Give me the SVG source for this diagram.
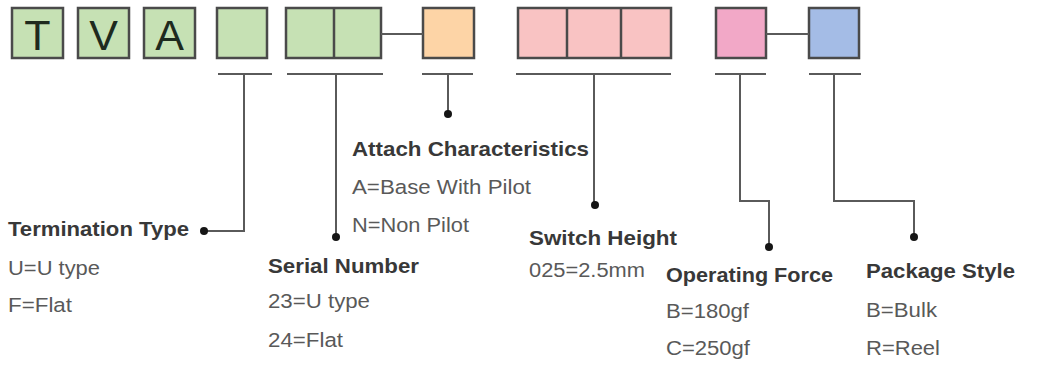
<svg xmlns="http://www.w3.org/2000/svg" width="1038" height="369" viewBox="0 0 1038 369">
<style>
.box{stroke:#4a4a4a;stroke-width:2.5}
.g{fill:#c6e1b4}.o{fill:#fdd4a6}.p{fill:#f9c3c3}.m{fill:#f2a8c7}.b{fill:#a4bce6}
.div{stroke:#4a4a4a;stroke-width:2.5}
.ln{stroke:#5a5a5a;stroke-width:2;fill:none}
.dot{fill:#151515}
.let{font-family:"Liberation Sans",Arial,sans-serif;font-size:43px;fill:#1e2a1e;text-anchor:middle}
.h{font-family:"Liberation Sans",Arial,sans-serif;font-size:21px;font-weight:bold;fill:#383838}
.t{font-family:"Liberation Sans",Arial,sans-serif;font-size:20.5px;fill:#595959}
</style>
<rect width="1038" height="369" fill="#ffffff"/>
<g id="box-T"><rect class="box g" x="12" y="8" width="51" height="50"/><text class="let" x="37.5" y="50">T</text></g>
<g id="box-V"><rect class="box g" x="78" y="8" width="51" height="50"/><text class="let" x="103.5" y="50">V</text></g>
<g id="box-A"><rect class="box g" x="144" y="8" width="51" height="50"/><text class="let" x="169.5" y="50">A</text></g>
<g id="box-termination"><rect class="box g" x="217" y="8" width="50" height="50"/></g>
<g id="box-serial"><rect class="box g" x="286" y="8" width="95" height="50"/><line class="div" x1="334" y1="8" x2="334" y2="58"/></g>
<g id="box-attach"><rect class="box o" x="423" y="8" width="51" height="50"/></g>
<g id="box-height"><rect class="box p" x="518" y="8" width="153" height="50"/><line class="div" x1="567" y1="8" x2="567" y2="58"/><line class="div" x1="621" y1="8" x2="621" y2="58"/></g>
<g id="box-force"><rect class="box m" x="716" y="8" width="50" height="50"/></g>
<g id="box-package"><rect class="box b" x="809" y="8" width="50" height="50"/></g>
<g id="connectors">
<line class="ln" x1="381" y1="34" x2="423" y2="34"/>
<line class="ln" x1="766" y1="34" x2="809" y2="34"/>
<line class="ln" x1="218" y1="74" x2="272" y2="74"/>
<line class="ln" x1="287" y1="74" x2="383" y2="74"/>
<line class="ln" x1="422" y1="74" x2="473" y2="74"/>
<line class="ln" x1="516" y1="74" x2="671" y2="74"/>
<line class="ln" x1="715" y1="74" x2="766" y2="74"/>
<line class="ln" x1="809" y1="74" x2="861" y2="74"/>
<polyline class="ln" points="244,74 244,231 204,231"/>
<polyline class="ln" points="336,74 336,237"/>
<polyline class="ln" points="448,74 448,114"/>
<polyline class="ln" points="594,74 594,205"/>
<polyline class="ln" points="740,74 740,201 769,201 769,247"/>
<polyline class="ln" points="834,74 834,201 914,201 914,237"/>
<circle class="dot" cx="204" cy="231" r="4"/>
<circle class="dot" cx="336" cy="237" r="4"/>
<circle class="dot" cx="448" cy="114" r="4"/>
<circle class="dot" cx="595" cy="205" r="4"/>
<circle class="dot" cx="769" cy="247" r="4"/>
<circle class="dot" cx="914" cy="237" r="4"/>
</g>
<g id="label-termination">
<text class="h" x="8" y="236" textLength="181" lengthAdjust="spacingAndGlyphs">Termination Type</text>
<text class="t" x="8" y="275" textLength="92" lengthAdjust="spacingAndGlyphs">U=U type</text>
<text class="t" x="8" y="312" textLength="64" lengthAdjust="spacingAndGlyphs">F=Flat</text>
</g>
<g id="label-serial">
<text class="h" x="268" y="273" textLength="151" lengthAdjust="spacingAndGlyphs">Serial Number</text>
<text class="t" x="268" y="308" textLength="102" lengthAdjust="spacingAndGlyphs">23=U type</text>
<text class="t" x="268" y="347" textLength="75" lengthAdjust="spacingAndGlyphs">24=Flat</text>
</g>
<g id="label-attach">
<text class="h" x="352" y="156" textLength="237" lengthAdjust="spacingAndGlyphs">Attach Characteristics</text>
<text class="t" x="352" y="194" textLength="179" lengthAdjust="spacingAndGlyphs">A=Base With Pilot</text>
<text class="t" x="352" y="232" textLength="117" lengthAdjust="spacingAndGlyphs">N=Non Pilot</text>
</g>
<g id="label-height">
<text class="h" x="529" y="245" textLength="148" lengthAdjust="spacingAndGlyphs">Switch Height</text>
<text class="t" x="529" y="277" textLength="116" lengthAdjust="spacingAndGlyphs">025=2.5mm</text>
</g>
<g id="label-force">
<text class="h" x="666" y="282" textLength="167" lengthAdjust="spacingAndGlyphs">Operating Force</text>
<text class="t" x="666" y="318" textLength="83" lengthAdjust="spacingAndGlyphs">B=180gf</text>
<text class="t" x="666" y="355" textLength="84" lengthAdjust="spacingAndGlyphs">C=250gf</text>
</g>
<g id="label-package">
<text class="h" x="866" y="278" textLength="149" lengthAdjust="spacingAndGlyphs">Package Style</text>
<text class="t" x="866" y="317" textLength="71" lengthAdjust="spacingAndGlyphs">B=Bulk</text>
<text class="t" x="866" y="355" textLength="74" lengthAdjust="spacingAndGlyphs">R=Reel</text>
</g>
</svg>
